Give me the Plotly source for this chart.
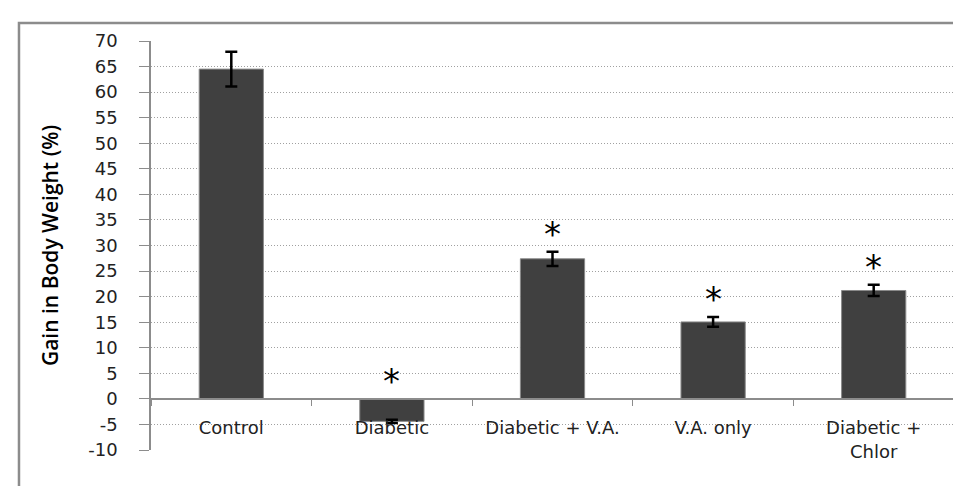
import plotly.graph_objects as go

categories = ["Control", "Diabetic", "Diabetic + V.A.", "V.A. only", "Diabetic +<br>Chlor"]
values = [64.5, -4.4, 27.4, 15.05, 21.2]
errors = [3.4, 0.3, 1.4, 0.95, 1.1]
significant = [False, True, True, True, True]
y_ticks = list(range(-10, 75, 5))
y_ticktext = [str(v) for v in y_ticks]

fig = go.Figure()
fig.add_trace(go.Bar(
    x=categories, y=values,
    marker=dict(color="#404040", line=dict(color="#8a8a8a", width=1)),
    width=0.4,
    error_y=dict(type="data", array=errors, visible=True, color="black", thickness=2.5, width=6),
    showlegend=False,
))

for c, v, e, s in zip(categories, values, errors, significant):
    if s:
        fig.add_annotation(x=c, y=max(v + e, 0), text="*", showarrow=False,
                           yanchor="bottom", yshift=-4,
                           font=dict(family="DejaVu Sans", size=34, color="black"))

fig.update_layout(
    width=961, height=486,
    margin=dict(l=143, r=15, t=33, b=44),
    plot_bgcolor="white", paper_bgcolor="white",
    font=dict(family="DejaVu Sans", color="#222"),
    xaxis=dict(
        anchor="free", position=0.125,
        showline=True, linecolor="#8c8c8c", linewidth=1.5,
        ticks="outside", ticklen=6, tickcolor="#8c8c8c", tickson="boundaries",
        ticklabelstandoff=13,
        tickfont=dict(family="DejaVu Sans", size=18, color="#222"),
        showgrid=False,
    ),
    yaxis=dict(
        range=[-10, 70], tickvals=y_ticks, ticktext=y_ticktext,
        showline=True, linecolor="#8c8c8c", linewidth=1.5,
        ticks="outside", ticklen=10, tickcolor="#8c8c8c",
        ticklabelstandoff=18,
        tickfont=dict(family="DejaVu Sans", size=18, color="#222"),
        showgrid=True, gridcolor="#a0a0a0", griddash="1px,2px", gridwidth=1,
        zeroline=True, zerolinecolor="#8c8c8c", zerolinewidth=1.5,
        title=dict(text="Gain in Body Weight (%)", standoff=24,
                   font=dict(family="Open Sans", size=21, color="black", weight=600)),
    ),
)

fig.add_shape(type="rect", xref="paper", yref="paper",
              x0=-0.1644, x1=1.2, y0=-0.4, y1=1.044,
              line=dict(color="#8c8c8c", width=2.5), fillcolor="rgba(0,0,0,0)")

fig.write_html("out.html")
